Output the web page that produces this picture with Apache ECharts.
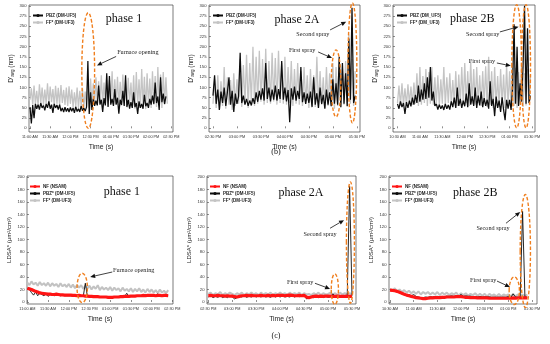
<!DOCTYPE html>
<html><head><meta charset="utf-8">
<script src="https://cdn.jsdelivr.net/npm/echarts@6/dist/echarts.min.js"></script>
<style>html,body{margin:0;padding:0;background:#fff}#c{width:550px;height:344px}</style>
</head><body><div id="c"></div>
<script>
// ---- time bases (minutes since midnight) ----
const b1Start = 660, b2Start = 870, b3Start = 630, topStep = 2;
const c1Start = 660, c2Start = 870, c3Start = 630, botStep = 3;

// ---- tick labels (minutes since midnight) ----
const ticksP1 = [660, 690, 720, 750, 780, 810, 840, 870];
const ticksP2A = [870, 900, 930, 960, 990, 1020, 1050];
const ticksP2B = [630, 660, 690, 720, 750, 780, 810];
const ticksDavg = [0, 25, 50, 75, 100, 125, 150, 175, 200, 225, 250, 275, 300];
const ticksLDSA = [0, 20, 40, 60, 80, 100, 120, 140, 160, 180, 200];

// ---- (b) D'avg series ----
const b1PBZ = [52,12,57,25,60,48,58,46,62,50,56,44,60,50,66,48,58,38,60,50,57,46,58,42,50,40,52,41,49,40,51,42,50,38,53,41,48,40,55,43,50,42,52,165,35,88,45,72,55,68,56,105,58,70,40,74,56,135,52,128,58,72,55,96,58,75,36,70,57,92,55,130,52,70,48,64,50,88,52,62,35,66,50,60,48,82,54,62,50,72,58,80,60,112,62,78,45,125,64,85,60,78];
const b1FF = [70,98,58,105,60,92,55,108,62,100,57,95,60,110,58,102,64,96,56,104,60,99,58,106,62,94,57,100,55,103,60,95,52,88,55,100,50,92,56,97,52,90,54,118,50,122,58,110,60,125,57,115,62,130,58,112,60,128,55,118,62,140,58,120,60,126,56,114,62,132,58,118,55,124,60,112,50,130,48,138,55,120,50,145,52,126,47,135,55,122,50,140,58,128,52,150,56,132,50,138,58,125,60];
const b2PBZ = [80,130,60,95,45,90,62,100,55,88,125,58,92,40,85,60,78,185,62,80,58,72,55,68,56,74,60,88,65,92,70,98,68,160,72,100,66,95,70,105,68,96,72,165,70,100,66,94,15,98,70,102,68,92,72,150,64,88,60,85,62,90,52,125,58,86,50,100,60,82,48,95,58,88,55,120,60,110,58,175,52,160,60,135,55,220,70,295,62,80];
const b2FF = [60,120,50,130,45,115,55,150,48,125,58,118,45,135,55,120,60,170,52,155,58,180,50,160,62,200,55,175,60,190,65,170,58,195,62,165,60,185,66,172,58,190,62,160,60,175,58,150,62,165,55,145,60,160,58,140,55,150,60,130,50,145,55,130,52,175,50,140,58,125,50,150,55,135,52,160,48,150,55,170,50,145,58,165,52,230,60,170,55,140];
const b3PBZ = [60,48,66,52,62,35,64,50,68,54,75,58,82,62,105,65,95,70,110,72,125,75,150,68,90,55,60,46,58,48,56,45,60,48,57,46,66,52,75,50,100,55,72,50,68,54,85,52,110,58,78,55,100,50,80,56,90,52,74,55,70,48,115,55,72,30,78,50,68,40,76,45,20,70,48,70,45,100,255,60,200,55,110,65,150,300,60,245,62,80];
const b3FF = [62,105,55,110,58,98,56,108,60,102,57,112,60,135,55,150,58,128,62,145,55,138,60,150,58,125,62,130,55,120,60,150,56,125,62,135,58,118,60,140,55,132,60,150,58,160,62,140,55,165,60,145,58,150,62,130,55,140,60,152,52,175,58,140,50,150,55,128,52,145,58,132,50,155,56,140,52,160,55,148,50,138,58,150,52,135,56,145,60,130];

// ---- (c) LDSA* series ----
const c1NF = [22,21,20,18.5,17,16,14.5,14,13.5,13,12.5,12.5,12,12,12.5,12,11.5,11.5,11,11,11,11,10.5,10.5,10,10.5,10,10,9.5,9.5,9,9,8.5,8.5,8.5,8,8,8,8,7.5,7.5,7.5,8,8,8,8.5,8.5,9,9,9,9.5,9.5,9.5,10,10,10,10.5,10,10.5,10.5,10.5,10.5,10,10.5,10.5,10,10.5,10.5,10];
const c1PBZ = [22,20,15,11,16,10,14,12,10,13,9,12,11,10,12,11,10,11,10,10,10,10,9.5,10,9,9.5,9,9,30,9,9,8,8,8.5,8,7.5,8,7.5,7.5,7,7.5,7.5,8,8,8.5,8,9,9,14,9,9.5,9,9.5,10,9.5,10,10,12,10,10,10.5,10,10,13,10,10,10,12,10];
const c1FF = [31,27,33,28,31,26,32,27,30,26,31,25,30,26,29,24,30,25,28,24,29,23,28,22,27,23,27,21,26,22,26,20,25,21,27,19,24,20,23,19,24,18,23,19,22,17,23,18,21,17,22,16,21,17,22,16,20,15,21,16,20,15,19,14,20,15,18,14,19];
const c2NF = [10,10.5,10,10,10.5,10,10,9.5,10,9.5,9.5,8.5,8,9,10,10,10.5,10,10.5,10,10,10,10.5,10,10,10.5,10,10.5,10,10.5,10.5,10.5,10,10.5,11,10.5,10,10,10.5,10,10.5,8,7,8,9,9.5,9,9.5,9,9.5,9.5,9.5,9,9,9.5,9,9,9,9.5,9,9];
const c2PBZ = [8,10,7,9,7.5,10,7,9,7,10,8,5,7,9,8,10,7.5,9,8,10,8,9.5,8,10,8,9,7.5,10,8,9.5,8,10,8,9,8,10,8,9.5,8.5,10,12,5,6,8,7,9,7,8.5,7,9,7.5,8,13,9,7.5,9,8,9,9,185,10];
const c2FF = [13,15,11,14,12,16,11,14,12,15,13,11,14,12,15,11,14,12,15,12,14,11,15,12,14,12,15,11,14,12,15,12,14,11,15,12,14,12,15,11,14,12,13,11,14,12,15,11,14,12,13,15,12,14,11,15,12,14,12,14,12];
const c3NF = [19,18.5,18,17,15.5,14,12.5,11,10,9,8,7,6.5,6,5.5,5.5,6,6.5,6.5,7,7,7,7.5,7.5,8,8,8,8,8.5,8.5,8.5,8,7.5,7.5,7,7,7,6.5,6.5,6.5,6.5,6.5,6,6,6,6,6,6,6,6,6,6,6.5,6,6.5,6.5,6.5,6.5,6.5];
const c3PBZ = [20,18,19,16,15,13,13,11,12,10,12,9,8,7,7,8,7.5,8.5,8,9,9,8.5,9,8.5,9.5,9,10,9,10,9.5,12,9,10,9,9.5,8.5,9,8,9,8,8.5,8,8.5,7.5,8,7.5,8,7.5,8,7.5,9,7,13,8,7.5,8,145,8,7.5];
const c3FF = [21,18,22,17,20,16,19,15,18,14,17,13,17,12,16,13,16,12,15,12,16,11,15,12,15,11,14,12,15,10,14,11,14,10,13,11,14,10,13,10,13,9,13,10,12,9,13,9,12,10,12,9,13,9,12,10,12,9,12];

// ---- helpers ----
function pts(start, step, arr) { return arr.map((v, i) => [start + i * step, v]); }
function pad(n) { return (n < 10 ? '0' : '') + n; }
function fmtTime(v) {
  const h = Math.floor(v / 60), m = Math.round(v % 60);
  let hh = h % 12; if (hh === 0) hh = 12;
  return pad(hh) + ':' + pad(m) + ' ' + (h >= 12 ? 'PM' : 'AM');
}

const chart = echarts.init(document.getElementById('c'), null, {renderer: 'canvas'});

const grids = [
  {left: 29, top: 5, width: 144, height: 127},
  {left: 209, top: 5, width: 151, height: 127},
  {left: 393, top: 5, width: 142, height: 127},
  {left: 27, top: 176, width: 146, height: 128},
  {left: 207, top: 176, width: 149, height: 128},
  {left: 389, top: 176, width: 148, height: 128}
].map(g => Object.assign({show: true, borderColor: '#444', borderWidth: 0.7, backgroundColor: 'transparent'}, g));

const xRanges = [[658.5, 872.5, ticksP1], [865, 1054, ticksP2A], [624, 814, ticksP2B],
                 [659.5, 871, ticksP1], [868.4, 1055, ticksP2A], [628.7, 816.3, ticksP2B]];

const xAxes = xRanges.map((r, k) => ({
  type: 'value', gridIndex: k, min: r[0], max: r[1],
  axisLine: {show: false},
  axisTick: {show: true, inside: true, length: 2, customValues: r[2], lineStyle: {color: '#444', width: 0.6}},
  axisLabel: {customValues: r[2], formatter: fmtTime, fontSize: 3.8, color: '#333', margin: 3, fontFamily: 'Liberation Sans Narrow, Liberation Sans', hideOverlap: false},
  splitLine: {show: false},
  name: 'Time (s)', nameLocation: 'middle', nameGap: k < 3 ? 12 : 11.5,
  nameTextStyle: {fontSize: 6.8, color: '#222', fontFamily: 'Liberation Sans'}
}));

const yAxes = [0,1,2,3,4,5].map(k => {
  const top = k < 3;
  return {
    type: 'value', gridIndex: k, min: top ? -9 : -3.2, max: top ? 302 : 201.6,
    axisLine: {show: false},
    axisTick: {show: true, inside: true, length: 2, customValues: top ? ticksDavg : ticksLDSA, lineStyle: {color: '#444', width: 0.6}},
    axisLabel: {customValues: top ? ticksDavg : ticksLDSA, fontSize: 4.2, color: '#333', margin: 2.5, fontFamily: 'Liberation Sans'},
    splitLine: {show: false},
    name: top ? "{m|D'}{s|avg}{m| (nm)}" : 'LDSA* (μm²/cm³)',
    nameLocation: 'middle', nameGap: top ? 12 : 15, nameRotate: 90,
    nameTextStyle: top ? {rich: {m: {fontSize: 6.5, color: '#222', fontFamily: 'Liberation Sans'}, s: {fontSize: 4.5, color: '#222', fontFamily: 'Liberation Sans', padding: [3, 0, 0, 0]}}}
                       : {fontSize: 6, color: '#222', fontFamily: 'Liberation Sans'}
  };
});

function line(name, k, data, color, width, z) {
  return {type: 'line', name: name, xAxisIndex: k, yAxisIndex: k, data: data, showSymbol: false, symbol: 'none',
          lineStyle: {color: color, width: width}, itemStyle: {color: color}, z: z, silent: true, animation: false};
}
const GRAY = '#c4c4c4', BLACK = '#0d0d0d', RED = '#ff1414', GRAY2 = '#c2c2c2';
const series = [
  line('FF* (DM-UF3)', 0, pts(b1Start, topStep, b1FF), GRAY, 1.3, 2),
  line('PBZ (DM-UF5)', 0, pts(b1Start, topStep, b1PBZ), BLACK, 1.25, 3),
  line('FF* (DM-UF3)', 1, pts(b2Start, topStep, b2FF), GRAY, 1.3, 2),
  line('PBZ (DM-UF5)', 1, pts(b2Start, topStep, b2PBZ), BLACK, 1.25, 3),
  line('FF* (DM_UF3)', 2, pts(b3Start, topStep, b3FF), GRAY, 1.3, 2),
  line('PBZ (DM_UF5)', 2, pts(b3Start, topStep, b3PBZ), BLACK, 1.25, 3),
  line('FF* (DM-UF3)', 3, pts(c1Start, botStep, c1FF), GRAY2, 2, 2),
  line('PBZ* (DM-UF5)', 3, pts(c1Start, botStep, c1PBZ), BLACK, 0.9, 3),
  line('NF (NSAM)', 3, pts(c1Start, botStep, c1NF), RED, 3.2, 4),
  line('FF* (DM-UF3)', 4, pts(c2Start, botStep, c2FF), GRAY2, 2, 2),
  line('PBZ* (DM-UF5)', 4, pts(c2Start, botStep, c2PBZ), BLACK, 0.9, 3),
  line('NF (NSAM)', 4, pts(c2Start, botStep, c2NF), RED, 3.2, 4),
  line('FF* (DM-UF3)', 5, pts(c3Start, botStep, c3FF), GRAY2, 2, 2),
  line('PBZ* (DM-UF5)', 5, pts(c3Start, botStep, c3PBZ), BLACK, 0.9, 3),
  line('NF (NSAM)', 5, pts(c3Start, botStep, c3NF), RED, 3.2, 4)
];

function lg(left, top, names) {
  return {left: left, top: top, orient: 'vertical', itemGap: 2, itemWidth: 10, itemHeight: 4, padding: 0,
          selectedMode: false, data: names,
          textStyle: {fontSize: 4.5, fontWeight: 'bold', color: '#222', fontFamily: 'Liberation Sans', padding: [0, 0, 0, -2]}};
}
const legends = [
  lg(32, 13, ['PBZ (DM-UF5)', 'FF* (DM-UF3)']),
  lg(212, 13, ['PBZ (DM-UF5)', 'FF* (DM-UF3)']),
  lg(396, 13, ['PBZ (DM_UF5)', 'FF* (DM_UF3)']),
  lg(29, 184, ['NF (NSAM)', 'PBZ* (DM-UF5)', 'FF* (DM-UF3)']),
  lg(209, 184, ['NF (NSAM)', 'PBZ* (DM-UF5)', 'FF* (DM-UF3)']),
  lg(391, 184, ['NF (NSAM)', 'PBZ* (DM-UF5)', 'FF* (DM-UF3)'])
];

chart.setOption({
  animation: false,
  grid: grids, xAxis: xAxes, yAxis: yAxes, series: series, legend: legends
});

// ---- annotations (in data coordinates of each panel) ----
const ellipses = [
  [0, 737, 756, 0, 283],
  [1, 1018, 1030, 28, 192], [1, 1039, 1050, 13, 307],
  [2, 783, 796, 1, 303], [2, 796, 808, 1, 303],
  [3, 732, 747, -1, 46],
  [4, 1024, 1033, -4, 45], [4, 1043, 1053, -2, 192],
  [5, 781, 794, -4, 40], [5, 795, 808, -9, 172]
];
const arrows = [
  [0, 788, 176, 759.5, 154],
  [1, 1016.6, 241, 1036.7, 261], [1, 1001.6, 187, 1019, 172],
  [2, 767, 236, 792, 249], [2, 763, 160, 781.6, 153],
  [3, 783, 48, 751, 40],
  [4, 1022.5, 118, 1040, 131], [4, 1003.6, 30, 1022.5, 21],
  [5, 777, 126, 795, 144], [5, 765.6, 33.5, 782, 24]
];
const notes = [
  [0, 789.5, 185, 'Furnace opening', 'left'],
  [1, 995, 231, 'Second spray', 'center'], [1, 981.5, 192, 'First spray', 'center'],
  [2, 744, 231, 'Second spray', 'center'], [2, 743, 163, 'First spray', 'center'],
  [3, 784, 51, 'Furnace opening', 'left'],
  [4, 1010, 108, 'Second spray', 'center'], [4, 985, 32, 'First spray', 'center'],
  [5, 760.5, 118, 'Second spray', 'center'], [5, 748, 35, 'First spray', 'center']
];
const phases = [
  [0, 799.7, 268, 'phase 1'], [1, 975, 266, 'phase 2A'], [2, 730, 268, 'phase 2B'],
  [3, 797, 176, 'phase 1'], [4, 986, 174, 'phase 2A'], [5, 738, 174, 'phase 2B']
];

const P = (k, x, y) => chart.convertToPixel({gridIndex: k}, [x, y]);
const gfx = [];
ellipses.forEach(e => {
  const a = P(e[0], e[1], e[3]), b = P(e[0], e[2], e[4]);
  gfx.push({type: 'ellipse', z: 50, silent: true,
    shape: {cx: (a[0] + b[0]) / 2, cy: (a[1] + b[1]) / 2, rx: Math.abs(b[0] - a[0]) / 2, ry: Math.abs(b[1] - a[1]) / 2},
    style: {fill: null, stroke: '#f07f1e', lineWidth: 1.4, lineDash: [3.5, 2]}});
});
arrows.forEach(r => {
  const s = P(r[0], r[1], r[2]), t = P(r[0], r[3], r[4]);
  const dx = t[0] - s[0], dy = t[1] - s[1], L = Math.hypot(dx, dy), ux = dx / L, uy = dy / L;
  const hl = 5, hw = 2.2;
  const bx = t[0] - ux * hl, by = t[1] - uy * hl;
  gfx.push({type: 'line', z: 51, silent: true, shape: {x1: s[0], y1: s[1], x2: bx, y2: by}, style: {stroke: '#111', lineWidth: 0.8}});
  gfx.push({type: 'polygon', z: 51, silent: true,
    shape: {points: [[t[0], t[1]], [bx - uy * hw, by + ux * hw], [bx + uy * hw, by - ux * hw]]}, style: {fill: '#111'}});
});
notes.forEach(n => {
  const p = P(n[0], n[1], n[2]);
  gfx.push({type: 'text', z: 52, silent: true, x: p[0], y: p[1],
    style: {text: n[3], fontSize: 6.2, fontFamily: 'Liberation Serif', fill: '#222', align: n[4], verticalAlign: 'middle'}});
});
phases.forEach(n => {
  const p = P(n[0], n[1], n[2]);
  gfx.push({type: 'text', z: 52, silent: true, x: p[0], y: p[1],
    style: {text: n[3], fontSize: 12, fontFamily: 'Liberation Serif', fill: '#111', align: 'center', verticalAlign: 'middle'}});
});
gfx.push({type: 'text', silent: true, x: 276, y: 152, style: {text: '(b)', fontSize: 8, fontFamily: 'Liberation Serif', fill: '#111', align: 'center', verticalAlign: 'middle'}});
gfx.push({type: 'text', silent: true, x: 276, y: 336, style: {text: '(c)', fontSize: 8, fontFamily: 'Liberation Serif', fill: '#111', align: 'center', verticalAlign: 'middle'}});

chart.setOption({graphic: gfx});
</script>
</body></html>
